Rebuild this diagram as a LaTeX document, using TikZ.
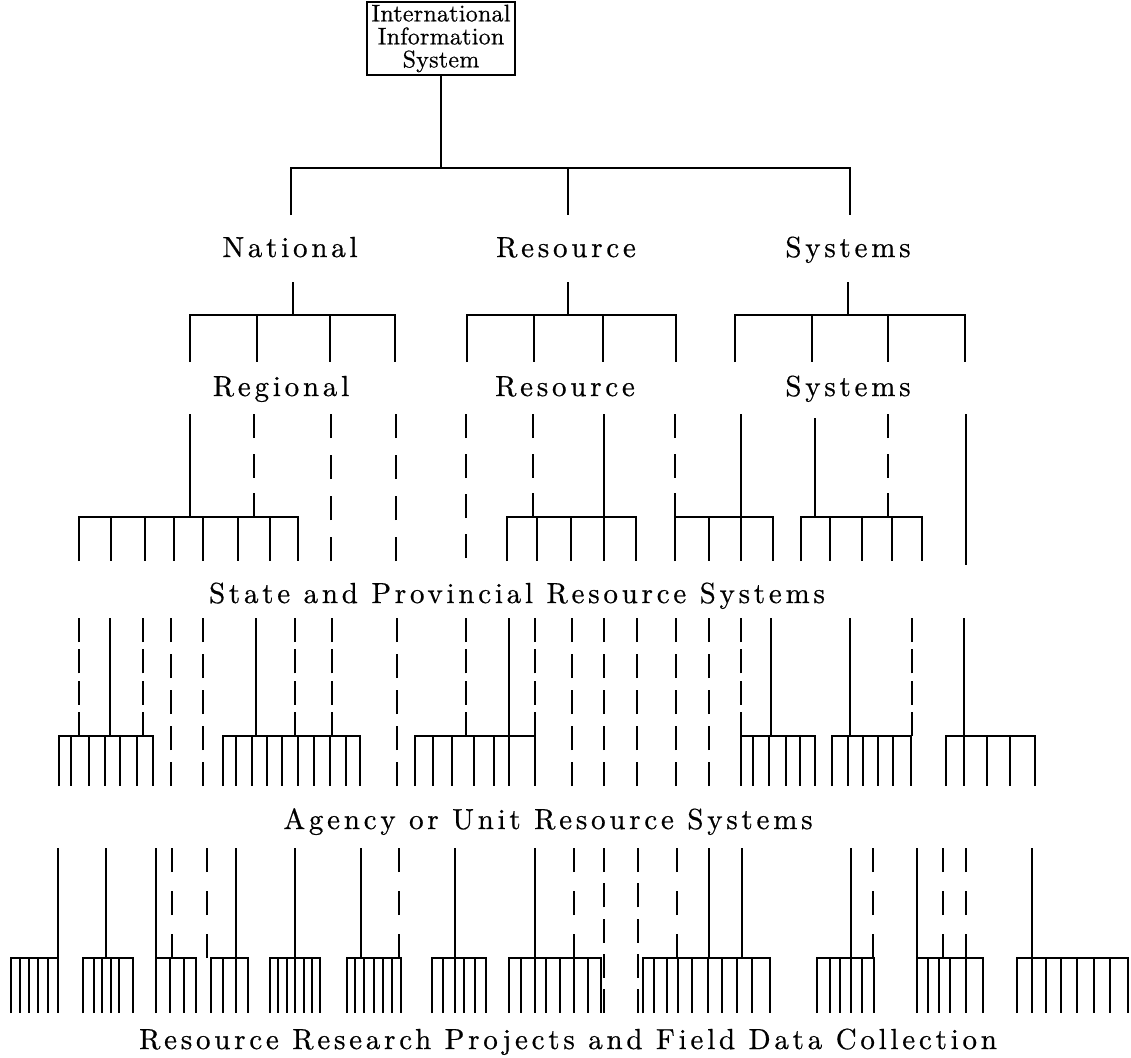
\documentclass[tikz,border=0pt]{standalone}
\usepackage{fontspec}
\newfontfamily\lblfont[LetterSpace=13,FakeBold=0.6]{lmroman10-regular.otf}
\newfontfamily\boxfont[LetterSpace=1,FakeBold=0.6]{lmroman10-regular.otf}
\newcommand\tickrow[5]{%
  \draw (#3,#2) -- (#3,#1) -- (#4,#1) -- (#4,#2);
  \foreach \t in {#5} {\draw (\t,#1) -- (\t,#2);}
}
% dashed vertical that starts and ends on a dash
\newcommand\dline[3]{%
  \pgfmathsetmacro\dlL{abs(#3-#2)*0.5}%
  \pgfmathsetmacro\dlN{max(2,round((\dlL+6)/18))}%
  \pgfmathsetmacro\dlG{(\dlL-12*\dlN)/(\dlN-1)}%
  \draw[dash pattern=on 12pt off \dlG pt] (#1,#2) -- (#1,#3);
}
\begin{document}
\begin{tikzpicture}[x=0.5pt,y=-0.5pt,line width=1.1pt,
  lbl/.style={font=\lblfont\fontsize{14.5}{16}\selectfont,inner sep=0pt,anchor=base},
  topbox/.style={draw,line width=1pt,minimum width=74pt,minimum height=36.5pt,inner sep=0pt,align=center,font=\boxfont\fontsize{12}{11.5}\selectfont}]
\useasboundingbox (0,0) rectangle (1131,1057);
% level 0
\node[topbox] (top) at (441,38.5) {International\\Information\\System};
\coordinate (j0) at (441,168);
\draw (top.south) -- (j0);
\tickrow{168}{215}{291}{850}{568}
% level 1 labels
\node[lbl] (nat) at (290,257) {National};
\node[lbl] (res1) at (566,257) {Resource};
\node[lbl] (sys1) at (848,257) {Systems};
\foreach \x in {293,568,848} \draw (\x,282) -- (\x,315);
\tickrow{315}{362}{190}{395}{257,330}
\tickrow{315}{362}{467}{676}{534,603}
\tickrow{315}{362}{735}{965}{812,888}
% level 2 labels
\node[lbl] (reg) at (281,396) {Regional};
\node[lbl] (res2) at (565,396) {Resource};
\node[lbl] (sys2) at (848,396) {Systems};
% level 2 -> 3
\foreach \x/\b in {190/517,604/517,741/517,966/565} \draw (\x,414) -- (\x,\b);
\draw (815,418) -- (815,517);
\foreach \x/\b in {254/517,331/561,396/561,466/558,533/517,675/517,888/517} {\dline{\x}{\b}{414}}
\tickrow{517}{561}{79}{298}{111,145,174,203,238,270}
\tickrow{517}{561}{507}{636}{537,571,604}
\tickrow{517}{561}{675}{773}{709,741}
\tickrow{517}{561}{801}{922}{830,862,892}
\node[lbl] (state) at (517,603) {State and Provincial Resource Systems};
% level 3 -> 4
\foreach \x/\b in {110/736,256/736,509/736,771/736,850/736,964/736} \draw (\x,618) -- (\x,\b);
\foreach \x/\b in {79/736,143/736,171/786,203/786,295/736,332/736,397/786,466/736,535/736,572/786,604/786,637/786,676/786,709/786,741/736,912/736} {\dline{\x}{\b}{618}}
\tickrow{736}{786}{59}{153}{71,89,105,120,137}
\tickrow{736}{786}{223}{360}{236,252,267,282,298,314,330,346}
\tickrow{736}{786}{415}{535}{433,452,474,494,509}
\tickrow{736}{786}{741}{815}{753,769,786,800}
\tickrow{736}{786}{832}{911}{848,863,878,893}
\tickrow{736}{786}{946}{1035}{964,987,1010}
\node[lbl] (agency) at (548,829) {Agency or Unit Resource Systems};
% level 4 -> 5
\foreach \x/\b in {58/958,106/958,156/1013,236/958,295/958,361/958,455/958,535/958,709/958,742/958,851/958,917/958,1032/958} \draw (\x,848) -- (\x,\b);
\foreach \x/\b in {172/958,207/958,399/958,574/958,604/1013,638/1013,677/958,873/958,943/958,966/958} {\dline{\x}{\b}{848}}
\tickrow{958}{1013}{11}{58}{20,29,38,48}
\tickrow{958}{1013}{83}{133}{94,102,111,119}
\tickrow{958}{1013}{156}{196}{170,184}
\tickrow{958}{1013}{211}{248}{223,236}
\tickrow{958}{1013}{270}{320}{278,287,295,304,312}
\tickrow{958}{1013}{347}{401}{355,364,374,383,392}
\tickrow{958}{1013}{432}{486}{443,455,464,475}
\tickrow{958}{1013}{509}{601}{521,535,546,560,574,588}
\tickrow{958}{1013}{643}{770}{654,667,678,692,708,722,737,752}
\tickrow{958}{1013}{817}{874}{830,840,851,862}
\tickrow{958}{1013}{917}{983}{928,939,950,966}
\tickrow{958}{1013}{1017}{1128}{1032,1046,1061,1077,1094,1110}
\node[lbl] (field) at (568,1049) {Resource Research Projects and Field Data Collection};
\end{tikzpicture}
\end{document}
